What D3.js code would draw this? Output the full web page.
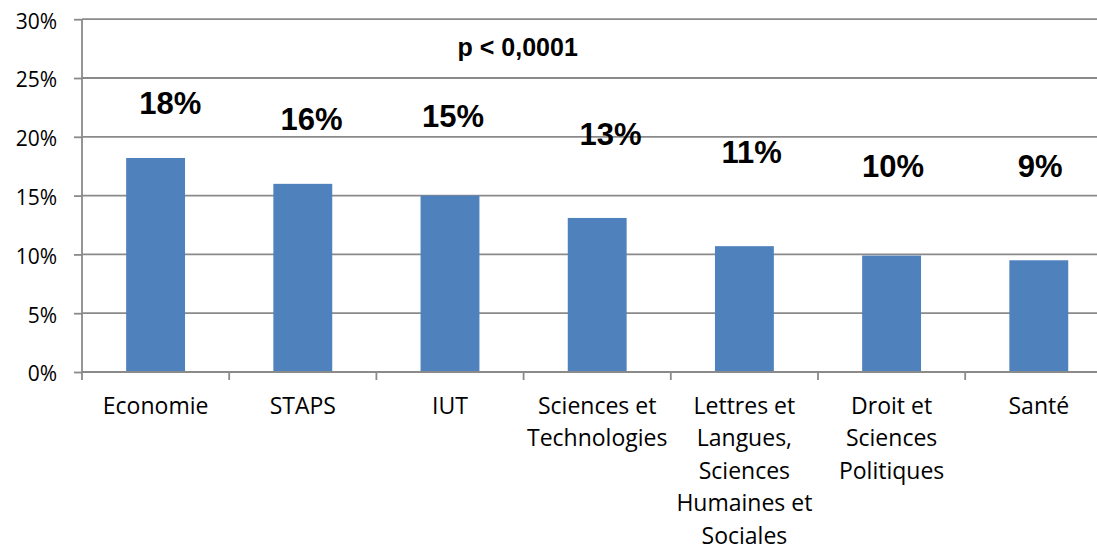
<!DOCTYPE html>
<meta charset="utf-8">
<style>
body { margin: 0; background: #fff; }
.tick text { font-family: "Open Sans", sans-serif; }
</style>
<body>
<svg width="1097" height="547"></svg>
<script src="https://d3js.org/d3.v7.min.js"></script>
<script>

// data
var categories = ["Economie", "STAPS", "IUT", "Sciences et Technologies",
  "Lettres et Langues, Sciences Humaines et Sociales", "Droit et Sciences Politiques", "Santé"];
var labelLines = [["Economie"], ["STAPS"], ["IUT"], ["Sciences et", "Technologies"],
  ["Lettres et", "Langues,", "Sciences", "Humaines et", "Sociales"],
  ["Droit et", "Sciences", "Politiques"], ["Santé"]];
var values = [18.2, 16.0, 15.0, 13.1, 10.7, 9.9, 9.5];
var valueLabels = ["18%", "16%", "15%", "13%", "11%", "10%", "9%"];
// where the (hand placed) value labels sit, in % units and band fractions
var labelAt = [21.9, 20.6, 20.8, 19.3, 17.8, 16.6, 16.6];
var labelShift = [0.10, 0.06, 0.02, 0.09, 0.05, 0.01, 0.01];
var yTicks = [0, 5, 10, 15, 20, 25, 30];
var pValue = "p < 0,0001";

var svg = d3.select("svg"),
    margin = {top: 19.2, left: 82, bottom: 175},
    right = 1112.4;

var x = d3.scaleBand()
    .domain(categories)
    .range([margin.left, right])
    .paddingInner(0.6)
    .paddingOuter(0.3);

var y = d3.scaleLinear()
    .domain([0, 30])
    .range([372, margin.top]);

var step = x.step();
var grey = "#8a8a8a";

// gridlines + y axis
var yAxis = svg.append("g")
    .attr("transform", "translate(" + margin.left + ",0)")
    .call(d3.axisLeft(y).tickValues(yTicks).tickSize(8).tickPadding(17)
      .tickFormat(function(d) { return d + "%"; }));
yAxis.select(".domain").attr("stroke", grey).attr("stroke-width", 1.8)
    .attr("d", "M0," + y(30) + "V" + y(0));
yAxis.selectAll(".tick line").attr("stroke", grey).attr("stroke-width", 1.8);
yAxis.selectAll(".tick text").attr("font-size", 21).attr("fill", "#000").attr("dy", "0.42em");

svg.append("g")
  .selectAll("line")
  .data(yTicks)
  .enter().append("line")
    .attr("x1", margin.left)
    .attr("x2", right)
    .attr("y1", function(d) { return y(d); })
    .attr("y2", function(d) { return y(d); })
    .attr("stroke", grey)
    .attr("stroke-width", 1.8);

// bars
svg.append("g")
  .selectAll("rect")
  .data(values)
  .enter().append("rect")
    .attr("x", function(d, i) { return x(categories[i]); })
    .attr("y", function(d) { return y(d); })
    .attr("width", x.bandwidth())
    .attr("height", function(d) { return y(0) - y(d); })
    .attr("fill", "#4f81bd");

// x axis line redrawn on top, ticks at band edges
svg.append("line")
    .attr("x1", margin.left).attr("x2", right)
    .attr("y1", y(0)).attr("y2", y(0))
    .attr("stroke", grey).attr("stroke-width", 1.8);

svg.append("g")
  .selectAll("line")
  .data(d3.range(categories.length + 1))
  .enter().append("line")
    .attr("x1", function(i) { return margin.left + i * step; })
    .attr("x2", function(i) { return margin.left + i * step; })
    .attr("y1", y(0))
    .attr("y2", y(0) + 8)
    .attr("stroke", grey)
    .attr("stroke-width", 1.8);

// category labels
var cat = svg.append("g")
    .attr("font-family", "'Open Sans', sans-serif")
    .attr("font-size", 23)
    .attr("text-anchor", "middle")
  .selectAll("text")
  .data(labelLines)
  .enter().append("text")
    .attr("transform", function(d, i) {
      return "translate(" + (x(categories[i]) + x.bandwidth() / 2) + "," + (y(0) + 42) + ")";
    });

cat.selectAll("tspan")
  .data(function(d) { return d; })
  .enter().append("tspan")
    .attr("x", 0)
    .attr("y", function(d, j) { return j * 32.4; })
    .text(function(d) { return d; });

// value labels
svg.append("g")
    .attr("font-family", "'Liberation Sans', Arial, sans-serif")
    .attr("font-weight", "bold")
    .attr("font-size", 31)
    .attr("text-anchor", "middle")
  .selectAll("text")
  .data(valueLabels)
  .enter().append("text")
    .attr("x", function(d, i) { return x(categories[i]) + x.bandwidth() / 2 + labelShift[i] * step; })
    .attr("y", function(d, i) { return y(labelAt[i]); })
    .text(function(d) { return d; });

// significance note
svg.append("text")
    .attr("x", x(categories[2]) + x.bandwidth() / 2 + 0.46 * step)
    .attr("y", y(26.9))
    .attr("font-family", "'Liberation Sans', Arial, sans-serif")
    .attr("font-weight", "bold")
    .attr("font-size", 25)
    .attr("text-anchor", "middle")
    .text(pValue);

</script>
</body>
